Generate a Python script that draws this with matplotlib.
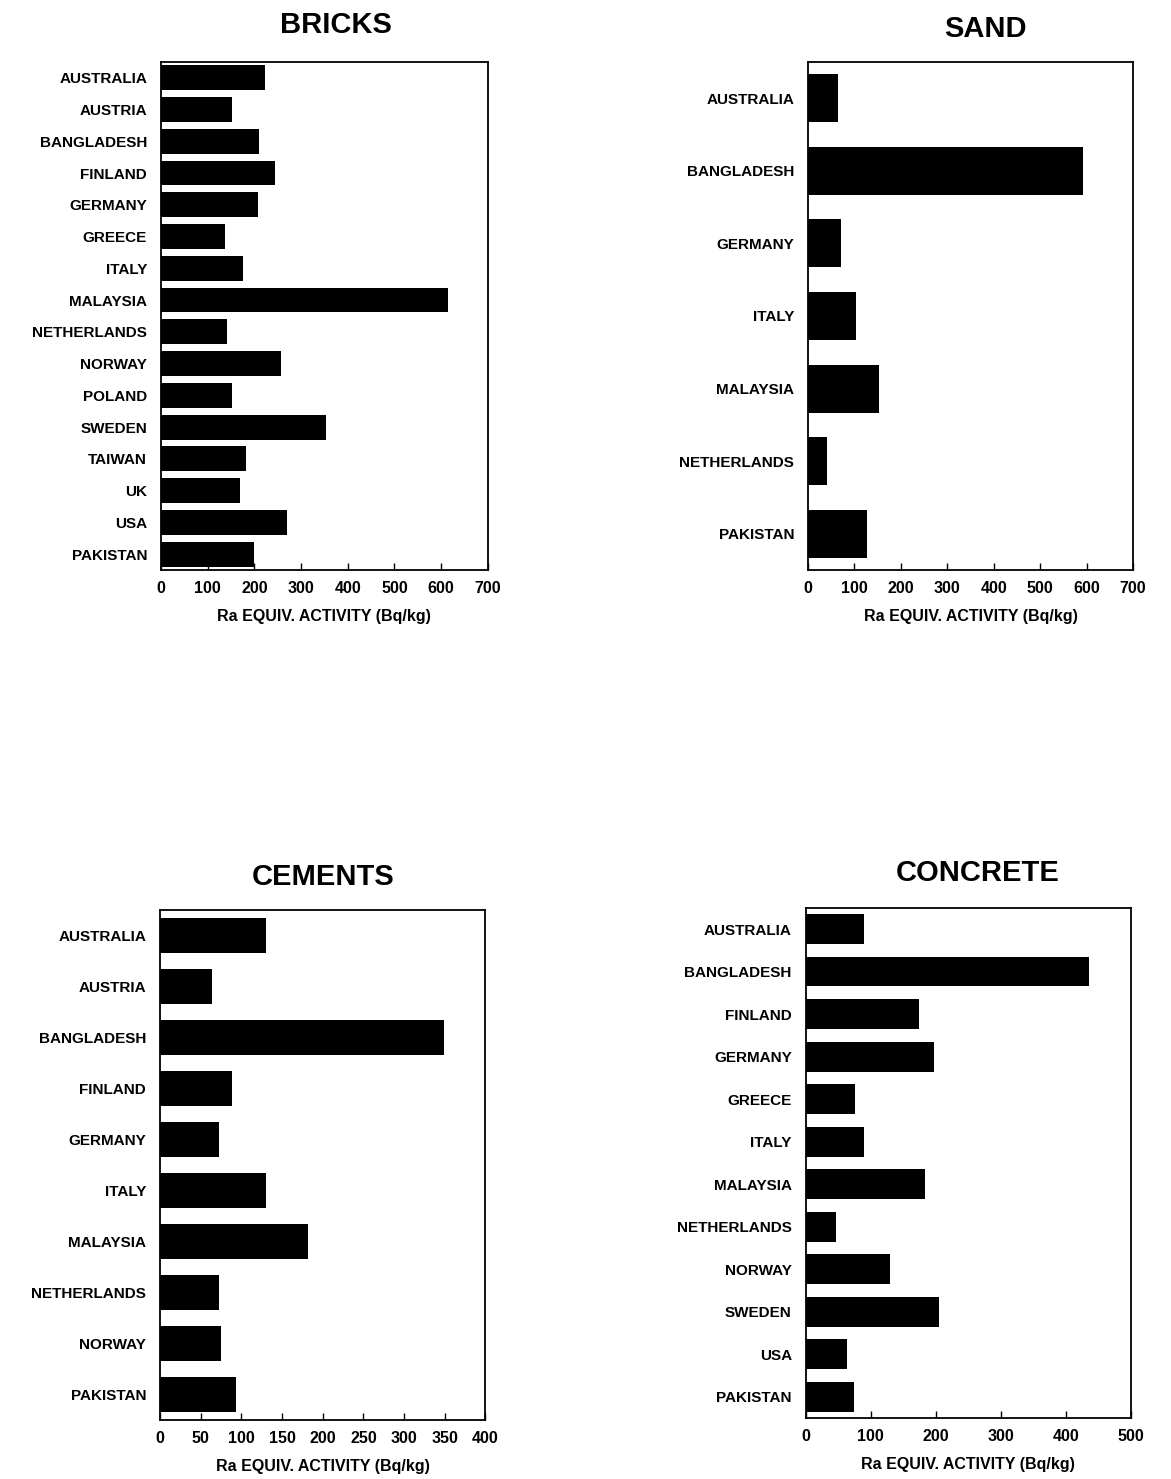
import matplotlib
matplotlib.use('Agg')
import matplotlib.pyplot as plt
import numpy as np

plt.rcParams['font.family'] = ['Liberation Sans', 'DejaVu Sans']

# bricks
bricks_countries = ['AUSTRALIA', 'AUSTRIA', 'BANGLADESH', 'FINLAND', 'GERMANY', 'GREECE',
                    'ITALY', 'MALAYSIA', 'NETHERLANDS', 'NORWAY', 'POLAND', 'SWEDEN',
                    'TAIWAN', 'UK', 'USA', 'PAKISTAN']
bricks_values = [222, 153, 211, 245, 207, 137, 176, 615, 141, 258, 152, 353, 183, 170, 269, 199]

# sand
sand_countries = ['AUSTRALIA', 'BANGLADESH', 'GERMANY', 'ITALY', 'MALAYSIA', 'NETHERLANDS', 'PAKISTAN']
sand_values = [65, 592, 72, 103, 152, 40, 128]

# cements
cement_countries = ['AUSTRALIA', 'AUSTRIA', 'BANGLADESH', 'FINLAND', 'GERMANY', 'ITALY',
                    'MALAYSIA', 'NETHERLANDS', 'NORWAY', 'PAKISTAN']
cement_values = [130, 64, 349, 89, 73, 130, 182, 72, 75, 93]

# concrete
concrete_countries = ['AUSTRALIA', 'BANGLADESH', 'FINLAND', 'GERMANY', 'GREECE', 'ITALY',
                      'MALAYSIA', 'NETHERLANDS', 'NORWAY', 'SWEDEN', 'USA', 'PAKISTAN']
concrete_values = [89, 435, 174, 198, 76, 89, 183, 47, 129, 205, 64, 74]

xlabel = 'Ra EQUIV. ACTIVITY (Bq/kg)'

fig = plt.figure(figsize=(11.71, 14.79), dpi=100)


def panel(rect, title, countries, values, xmax, xstep, barh, tx, tpad):
    ax = fig.add_axes(rect)
    y = np.arange(len(countries))
    ax.barh(y, values, height=barh, color='black')
    ax.set_ylim(len(countries) - 0.5, -0.5)
    ax.set_xlim(0, xmax)
    ax.set_yticks(y)
    ax.set_yticklabels(countries, fontsize=11, fontweight='bold')
    ax.set_xticks(np.arange(0, xmax + 1, xstep))
    ax.tick_params(axis='x', direction='in', length=5, width=1, labelsize=11.5, pad=8)
    ax.tick_params(axis='y', length=0, pad=10)
    for lbl in ax.get_xticklabels():
        lbl.set_fontweight('bold')
    for s in ax.spines.values():
        s.set_linewidth(1.3)
    ax.set_xlabel(xlabel, fontsize=11.5, fontweight='bold', labelpad=9)
    ax.set_title(title, fontsize=21, fontweight='bold', pad=tpad, x=tx)
    return ax


panel([0.1375, 0.6146, 0.279, 0.3435], 'BRICKS', bricks_countries, bricks_values, 700, 100, 0.78, 0.535, 21)
panel([0.690, 0.6146, 0.2775, 0.3435], 'SAND', sand_countries, sand_values, 700, 100, 0.66, 0.545, 18)
panel([0.1366, 0.0399, 0.278, 0.3448], 'CEMENTS', cement_countries, cement_values, 400, 50, 0.68, 0.5, 18)
panel([0.688, 0.0412, 0.2777, 0.345], 'CONCRETE', concrete_countries, concrete_values, 500, 100, 0.7, 0.528, 19)

fig.savefig('out.png', dpi=100)
